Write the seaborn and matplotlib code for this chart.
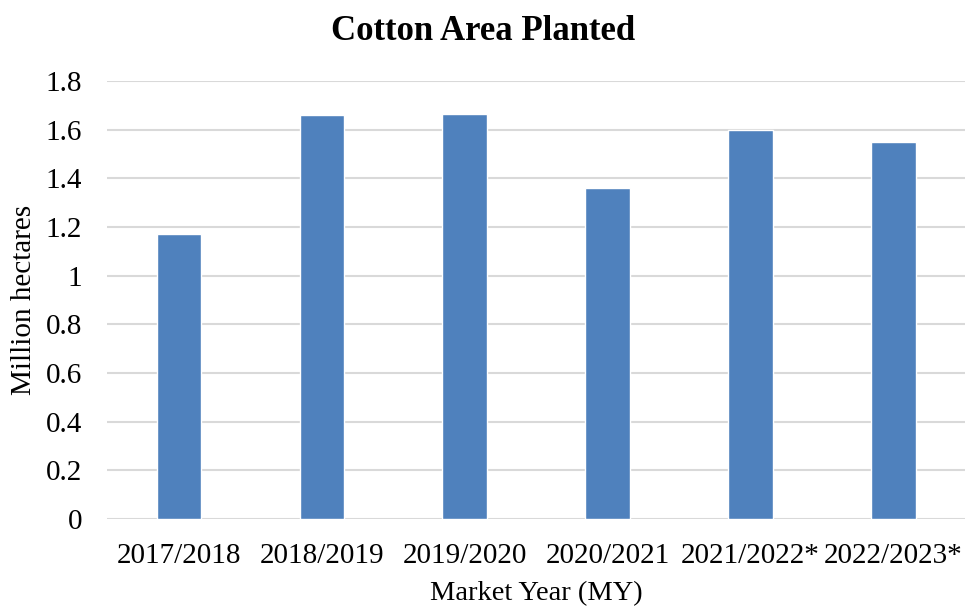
import matplotlib
matplotlib.use("Agg")
import matplotlib.pyplot as plt
import seaborn as sns
import pandas as pd

years = ["2017/2018", "2018/2019", "2019/2020", "2020/2021", "2021/2022*", "2022/2023*"]
area = [1.17, 1.66, 1.665, 1.36, 1.60, 1.55]
y_ticks = [0, 0.2, 0.4, 0.6, 0.8, 1, 1.2, 1.4, 1.6, 1.8]
y_tick_labels = ["0", "0.2", "0.4", "0.6", "0.8", "1", "1.2", "1.4", "1.6", "1.8"]

df = pd.DataFrame({"year": years, "area": area})

sns.set_theme(style="white")
plt.rcParams["font.family"] = ["Liberation Serif", "DejaVu Serif"]
plt.rcParams["text.color"] = "black"

fig = plt.figure(figsize=(9.66, 6.08), dpi=100)
ax = fig.add_axes([0.111, 0.1464, 0.888, 0.7204])

sns.barplot(data=df, x="year", y="area", color="#4f81bd", saturation=1,
            width=0.31, ax=ax, zorder=3)

ax.set_ylim(0, 1.8)
ax.set_xlim(-0.5, len(years) - 0.5)
ax.set_yticks(y_ticks)
ax.set_yticklabels(y_tick_labels)
ax.yaxis.grid(True, color="#d9d9d9", linewidth=1.5, zorder=0)
ax.set_axisbelow(True)
for s in ax.spines.values():
    s.set_visible(False)
ax.tick_params(axis="both", length=0, labelsize=21, colors="black")
ax.tick_params(axis="y", pad=18)
ax.tick_params(axis="x", pad=17)

ax.set_xlabel("Market Year (MY)", fontsize=20.5, color="black", labelpad=9)
ax.set_ylabel("Million hectares", fontsize=21, color="black", labelpad=6)
fig.suptitle("Cotton Area Planted", fontsize=25, fontweight="bold",
             color="black", y=0.975)

fig.savefig("out.png", dpi=100)
